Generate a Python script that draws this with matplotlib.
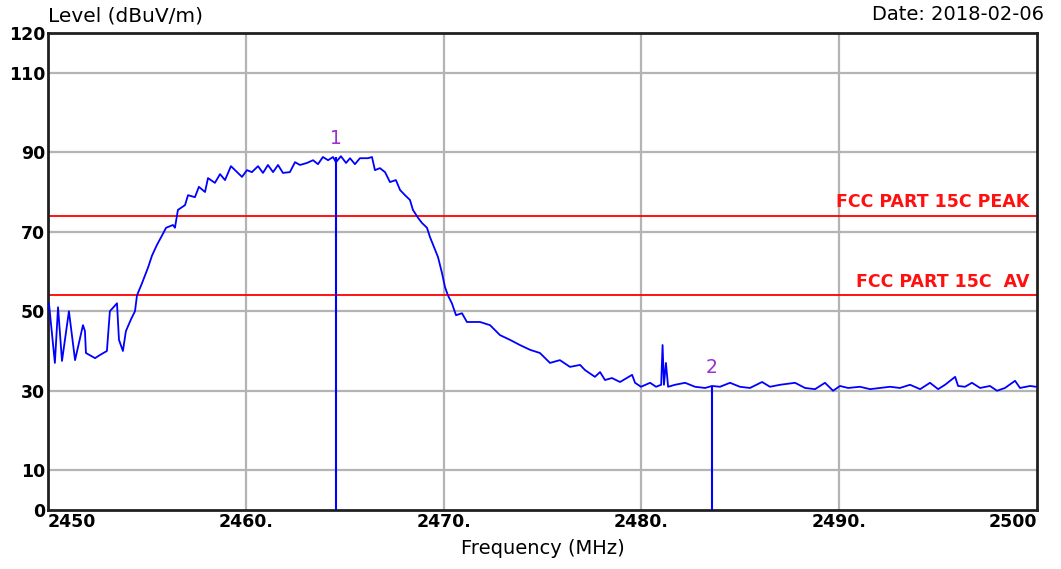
import matplotlib
matplotlib.use("Agg")
import matplotlib.pyplot as plt

# trace (MHz, dBuV/m)
freq = [2450.00, 2450.05, 2450.35, 2450.51, 2450.71, 2451.06, 2451.37, 2451.77, 2451.87,
        2451.92, 2452.38, 2452.63, 2452.98, 2453.13, 2453.49, 2453.59, 2453.79, 2453.94,
        2454.20, 2454.40, 2454.50, 2454.75, 2455.06, 2455.26, 2455.51, 2455.76, 2455.97,
        2456.32, 2456.42, 2456.57, 2456.93, 2457.08, 2457.43, 2457.63, 2457.94, 2458.09,
        2458.44, 2458.70, 2458.95, 2459.25, 2459.56, 2459.81, 2460.06, 2460.31, 2460.62,
        2460.87, 2461.12, 2461.38, 2461.63, 2461.88, 2462.23, 2462.49, 2462.74, 2463.09,
        2463.40, 2463.65, 2463.90, 2464.16, 2464.41, 2464.56, 2464.81, 2465.07, 2465.27,
        2465.52, 2465.77, 2466.18, 2466.38, 2466.53, 2466.78, 2467.04, 2467.29, 2467.59,
        2467.80, 2468.05, 2468.30, 2468.45, 2468.71, 2468.91, 2469.16, 2469.31, 2469.51,
        2469.72, 2469.92, 2470.07, 2470.22, 2470.42, 2470.63, 2470.93, 2471.18, 2471.84,
        2472.35, 2472.85, 2473.36, 2473.86, 2474.37, 2474.87, 2475.38, 2475.88, 2476.39,
        2476.90, 2477.15, 2477.65, 2477.91, 2478.16, 2478.51, 2478.92, 2479.53, 2479.68,
        2479.98, 2480.44, 2480.74, 2481.00, 2481.07, 2481.14, 2481.24, 2481.35, 2481.70,
        2482.21, 2482.71, 2483.22, 2483.57, 2483.97, 2484.48, 2484.98, 2485.49, 2486.10,
        2486.50, 2487.01, 2487.77, 2488.27, 2488.78, 2489.28, 2489.69, 2490.04, 2490.45,
        2491.05, 2491.56, 2492.06, 2492.57, 2493.07, 2493.58, 2494.09, 2494.59, 2495.00,
        2495.35, 2495.86, 2496.01, 2496.36, 2496.71, 2497.12, 2497.62, 2497.98, 2498.38,
        2498.89, 2499.14, 2499.65, 2499.95]
level = [51.8, 52.0, 37.0, 51.0, 37.5, 50.0, 37.7, 46.5, 45.0,
         39.5, 38.2, 39.0, 40.0, 50.0, 52.0, 42.8, 40.0, 45.0,
         48.0, 50.0, 54.0, 57.0, 61.0, 64.0, 66.7, 69.0, 71.0,
         71.7, 71.0, 75.5, 76.7, 79.2, 78.7, 81.3, 80.0, 83.5,
         82.3, 84.5, 83.0, 86.5, 85.0, 83.8, 85.5, 85.0, 86.5,
         84.8, 86.8, 85.0, 86.8, 84.8, 85.0, 87.5, 86.8, 87.3,
         88.0, 87.0, 88.8, 88.0, 88.8, 87.5, 89.0, 87.3, 88.5,
         87.0, 88.5, 88.5, 88.8, 85.5, 86.0, 85.0, 82.5, 83.0,
         80.5, 79.2, 78.0, 75.5, 73.5, 72.2, 71.0, 68.7, 66.2,
         63.6, 59.6, 56.1, 54.0, 52.0, 49.0, 49.5, 47.3, 47.3,
         46.5, 44.0, 42.8, 41.5, 40.3, 39.5, 37.0, 37.7, 36.0,
         36.5, 35.2, 33.5, 34.7, 32.7, 33.2, 32.2, 34.0, 32.0,
         31.0, 32.0, 31.0, 31.5, 41.5, 31.5, 37.0, 31.0, 31.5,
         32.0, 31.0, 30.7, 31.2, 31.0, 32.0, 31.0, 30.7, 32.2,
         31.0, 31.5, 32.0, 30.7, 30.4, 32.0, 30.0, 31.2, 30.7,
         31.0, 30.4, 30.7, 31.0, 30.7, 31.5, 30.4, 32.0, 30.4,
         31.5, 33.5, 31.2, 31.0, 32.0, 30.7, 31.2, 30.0, 30.7,
         32.5, 30.7, 31.2, 31.0]

limit_names = ["FCC PART 15C PEAK", "FCC PART 15C  AV"]
limit_vals = [74, 54]

mark_labels = ["1", "2"]
mark_freq = [2464.56, 2483.57]
mark_level = [88.8, 31.2]

yticks = [0, 10, 30, 50, 70, 90, 110, 120]
xticks = [2450, 2460, 2470, 2480, 2490, 2500]
xticklabels = ["2450", "2460.", "2470.", "2480.", "2490.", "2500"]

plt.rcParams["font.family"] = ["DejaVu Sans"]

fig = plt.figure(figsize=(10.61, 5.69), dpi=100)
ax = fig.add_axes([0.0452, 0.1037, 0.9322, 0.8383])
ax.set_xlim(2450, 2500)
ax.set_ylim(0, 120)

for y in yticks[1:-1]:
    ax.axhline(y, color="#b4b4b4", lw=1.6, zorder=1)
for x in xticks[1:-1]:
    ax.axvline(x, color="#b4b4b4", lw=1.6, zorder=1)

for name, v in zip(limit_names, limit_vals):
    ax.axhline(v, color="#ff0000", lw=1.3, zorder=2)
    ax.text(2499.6, v + 1.2, name, color="#ff1010", ha="right", va="bottom",
            fontsize=12.5, fontweight="bold")

ax.plot(freq, level, color="#0000ff", lw=1.3, zorder=3)

for lab, f, l in zip(mark_labels, mark_freq, mark_level):
    ax.vlines(f, 0, l, color="#0000ff", lw=1.5, zorder=4)
    ax.text(f, l + 2.2, lab, color="#9932cc", ha="center", va="bottom", fontsize=13.5)

ax.set_yticks(yticks)
ax.set_yticklabels([str(v) for v in yticks], fontsize=12.5, fontweight="bold")
ax.set_xticks(xticks)
ax.set_xticklabels(xticklabels, fontsize=12.5, fontweight="bold")
ax.tick_params(length=0, pad=2)
xl = ax.get_xticklabels()
xl[0].set_horizontalalignment("left")
xl[-1].set_horizontalalignment("right")
for s in ax.spines.values():
    s.set_linewidth(2)
    s.set_color("#202020")

fig.text(0.045, 0.955, "Level (dBuV/m)", fontsize=14.5, ha="left", va="bottom")
fig.text(0.984, 0.958, "Date: 2018-02-06", fontsize=14, ha="right", va="bottom")
ax.set_xlabel("Frequency (MHz)", fontsize=14, labelpad=6)

fig.savefig("out.png", dpi=100, facecolor="white")
